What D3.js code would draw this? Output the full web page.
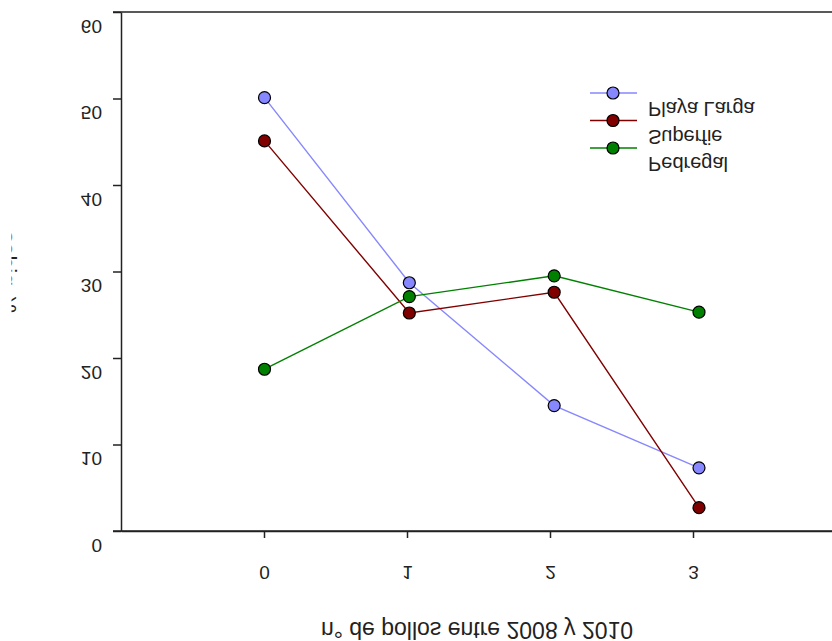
<!DOCTYPE html>
<html>
<head>
<meta charset="utf-8">
<script src="https://cdn.jsdelivr.net/npm/d3@7"></script>
<style>
  body { margin: 0; background: #fff; }
  text { font-family: "Liberation Sans", Arial, sans-serif; fill: #222; }
</style>
</head>
<body>
<svg id="chart" width="832" height="641"></svg>
<script>
// data
var xTicks = [0, 1, 2, 3];
var yTicks = [0, 10, 20, 30, 40, 50, 60];
var seriesNames = ["Playa Larga", "Superfie", "Pedregal"];
var seriesColors = ["#8787ff", "#800000", "#008000"];
var playaLarga = [50.1, 28.7, 14.5, 7.3];
var superfie = [45.1, 25.2, 27.6, 2.7];
var pedregal = [18.7, 27.1, 29.5, 25.3];
var allSeries = [playaLarga, superfie, pedregal];

var svg = d3.select("#chart");
var W = 832;

// scales (the points sit a little wider than the axis ticks in the original)
var x = d3.scaleLinear().domain([-1, 4]).range([121, 836]);
var xPts = d3.scaleLinear().domain([0, 3]).range([264.5, 699]);
var y = d3.scaleLinear().domain([0, 60]).range([531, 12]);

// flipped text helper (every label in the picture is mirrored top to bottom)
function flip(sel, off) {
  sel.attr("dy", null).attr("y", -off).attr("transform", "scale(1,-1)");
}

// y axis
var gy = svg.append("g")
    .attr("transform", "translate(" + x(-1) + ",0)")
    .call(d3.axisLeft(y).tickValues(yTicks).tickSize(8).tickSizeOuter(0).tickPadding(11));
gy.selectAll("text").style("font-size", "19px").call(flip, 7);

// x axis
var gx = svg.append("g")
    .attr("transform", "translate(0," + y(0) + ")")
    .call(d3.axisBottom(x).tickValues(xTicks).tickSize(7).tickSizeOuter(0).tickFormat(d3.format("d")));
gx.selectAll("text").style("font-size", "19px").attr("x", 0).call(flip, 35);

svg.selectAll(".domain, .tick line").attr("stroke", "#222").attr("stroke-width", 1.5);

// top frame line and bottom line out to the edge
svg.append("line").attr("x1", x(-1) - 8).attr("x2", W).attr("y1", y(60)).attr("y2", y(60))
    .attr("stroke", "#222").attr("stroke-width", 1.5);
svg.append("line").attr("x1", x(-1) - 8).attr("x2", W).attr("y1", y(0)).attr("y2", y(0))
    .attr("stroke", "#222").attr("stroke-width", 1.5);

// x axis title
svg.append("text")
    .attr("text-anchor", "middle")
    .style("font-size", "23px")
    .attr("transform", "translate(" + 477 + "," + 622 + ") scale(1,-1)")
    .text("n° de pollos entre 2008 y 2010");

// y axis title, mostly cut off at the left edge
svg.append("clipPath").attr("id", "ycut")
  .append("rect").attr("x", 11.5).attr("y", 0).attr("width", 40).attr("height", 641);
svg.append("g").attr("clip-path", "url(#ycut)")
  .append("text")
    .style("font-size", "23px")
    .attr("transform", "translate(-1,313) rotate(-90) scale(1,-1)")
    .text("% nidos");

// lines and points
var line = d3.line()
    .x(function(d, i) { return xPts(xTicks[i]); })
    .y(function(d) { return y(d); });

allSeries.forEach(function(vals, k) {
  svg.append("path")
      .datum(vals)
      .attr("fill", "none")
      .attr("stroke", seriesColors[k])
      .attr("stroke-width", 1.4)
      .attr("d", line);
});
allSeries.forEach(function(vals, k) {
  svg.selectAll(".pt" + k)
    .data(vals)
    .enter().append("circle")
      .attr("cx", function(d, i) { return xPts(xTicks[i]); })
      .attr("cy", function(d) { return y(d); })
      .attr("r", 6)
      .attr("fill", seriesColors[k])
      .attr("stroke", "#000")
      .attr("stroke-width", 1.2);
});

// legend
var legend = svg.append("g").attr("transform", "translate(590,93)");
seriesNames.forEach(function(name, k) {
  var row = legend.append("g").attr("transform", "translate(0," + (k * 27.5) + ")");
  row.append("line").attr("x1", 0).attr("x2", 47).attr("y1", 0).attr("y2", 0)
      .attr("stroke", seriesColors[k]).attr("stroke-width", 1.4);
  row.append("circle").attr("cx", 23).attr("cy", 0).attr("r", 6)
      .attr("fill", seriesColors[k]).attr("stroke", "#000").attr("stroke-width", 1.2);
  row.append("text")
      .style("font-size", "20px")
      .attr("transform", "translate(58,9) scale(1,-1)")
      .text(name);
});
</script>
</body>
</html>
